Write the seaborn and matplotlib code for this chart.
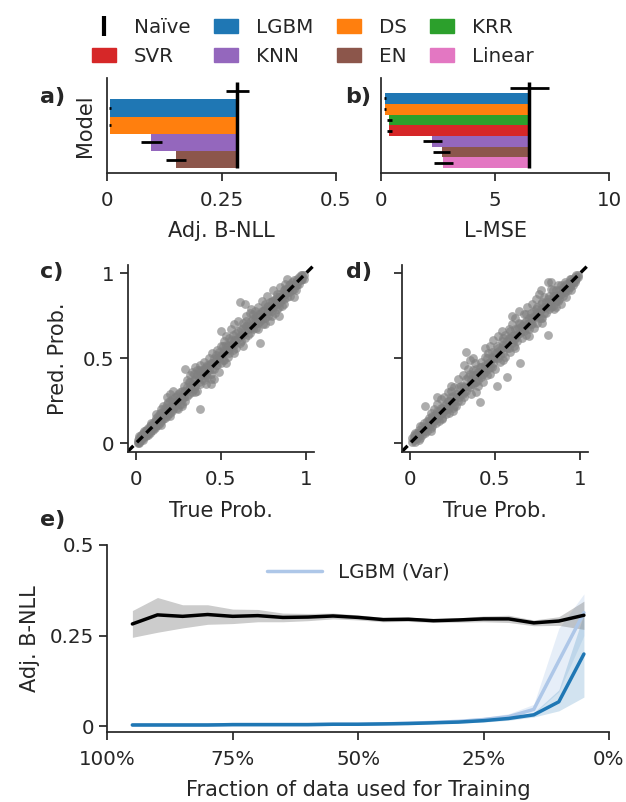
import numpy as np
import pandas as pd
import matplotlib
matplotlib.use("Agg")
import matplotlib.pyplot as plt
from matplotlib.lines import Line2D
from matplotlib.patches import Patch
import seaborn as sns

# ---------------- data ----------------
models = ["LGBM", "DS", "KRR", "SVR", "KNN", "EN", "Linear"]
model_colors = ["#1f77b4", "#ff7f0e", "#2ca02c", "#d62728", "#9467bd", "#8c564b", "#e377c2"]

# a) Adj. B-NLL per model (mean, spread) and naive baseline
nll_models = ["LGBM", "DS", "KNN", "EN"]
nll_vals = [0.006, 0.006, 0.096, 0.150]
nll_err = [0.002, 0.002, 0.023, 0.022]
nll_naive = 0.285
nll_naive_err = 0.026

# b) L-MSE per model and naive baseline
mse_models = ["LGBM", "DS", "KRR", "SVR", "KNN", "EN", "Linear"]
mse_vals = [0.19, 0.19, 0.38, 0.38, 2.25, 2.66, 2.73]
mse_err = [0.05, 0.05, 0.11, 0.11, 0.42, 0.37, 0.42]
mse_naive = 6.50
mse_naive_err = 0.86

# c) true vs predicted probability
calib_c = [
    (0.01, 0.02), (0.01, 0.01), (0.02, 0.03), (0.02, 0.01), (0.03, 0.04), (0.03, 0.02), (0.03, 0.05),
    (0.04, 0.03), (0.04, 0.06), (0.05, 0.04), (0.05, 0.07), (0.05, 0.05), (0.06, 0.05), (0.06, 0.08),
    (0.06, 0.04), (0.07, 0.06), (0.07, 0.09), (0.07, 0.05), (0.08, 0.08), (0.08, 0.10), (0.08, 0.06),
    (0.09, 0.07), (0.09, 0.11), (0.09, 0.09), (0.10, 0.08), (0.10, 0.12), (0.10, 0.10), (0.02, 0.04),
    (0.04, 0.02), (0.06, 0.07),
    (0.11, 0.13), (0.11, 0.09), (0.12, 0.15), (0.12, 0.10), (0.12, 0.17), (0.13, 0.11), (0.13, 0.14),
    (0.14, 0.12), (0.14, 0.18), (0.15, 0.13), (0.15, 0.20), (0.15, 0.16), (0.16, 0.14), (0.16, 0.22),
    (0.17, 0.15), (0.17, 0.19), (0.18, 0.16), (0.18, 0.23), (0.18, 0.27), (0.19, 0.17), (0.19, 0.21),
    (0.20, 0.18), (0.20, 0.25), (0.20, 0.29), (0.21, 0.19), (0.21, 0.26), (0.22, 0.20), (0.22, 0.31),
    (0.23, 0.22), (0.24, 0.21), (0.24, 0.28), (0.25, 0.24), (0.26, 0.23), (0.26, 0.30), (0.27, 0.26),
    (0.28, 0.27), (0.28, 0.34), (0.29, 0.44), (0.29, 0.25), (0.30, 0.33),
    (0.30, 0.28), (0.31, 0.36), (0.31, 0.29), (0.32, 0.40), (0.32, 0.33), (0.33, 0.30), (0.33, 0.42),
    (0.34, 0.37), (0.34, 0.32), (0.35, 0.45), (0.35, 0.34), (0.36, 0.40), (0.36, 0.31), (0.37, 0.43),
    (0.37, 0.36), (0.38, 0.20), (0.38, 0.35), (0.38, 0.46), (0.39, 0.38), (0.39, 0.43), (0.40, 0.37),
    (0.40, 0.48), (0.41, 0.40), (0.41, 0.35), (0.42, 0.46), (0.42, 0.39), (0.43, 0.43), (0.43, 0.50),
    (0.44, 0.41), (0.44, 0.35), (0.45, 0.47), (0.45, 0.53), (0.46, 0.44), (0.46, 0.38), (0.47, 0.52),
    (0.48, 0.46), (0.48, 0.55), (0.49, 0.50), (0.49, 0.42),
    (0.50, 0.57), (0.50, 0.66), (0.50, 0.47), (0.51, 0.53), (0.52, 0.60), (0.52, 0.49), (0.53, 0.55),
    (0.53, 0.63), (0.54, 0.51), (0.54, 0.58), (0.55, 0.62), (0.55, 0.53), (0.56, 0.67), (0.56, 0.57),
    (0.57, 0.55), (0.57, 0.64), (0.58, 0.61), (0.58, 0.70), (0.59, 0.56), (0.59, 0.65), (0.60, 0.62),
    (0.60, 0.72), (0.61, 0.83), (0.61, 0.59), (0.62, 0.67), (0.62, 0.60), (0.63, 0.71), (0.63, 0.64),
    (0.64, 0.82), (0.64, 0.62), (0.65, 0.69), (0.65, 0.75), (0.66, 0.64), (0.66, 0.70), (0.67, 0.77),
    (0.67, 0.65), (0.68, 0.72), (0.68, 0.79), (0.69, 0.67), (0.69, 0.73), (0.70, 0.70), (0.70, 0.78),
    (0.71, 0.68), (0.71, 0.75), (0.72, 0.80), (0.72, 0.71), (0.73, 0.59), (0.73, 0.76), (0.74, 0.73),
    (0.74, 0.84), (0.75, 0.70), (0.75, 0.78), (0.76, 0.82), (0.76, 0.74), (0.77, 0.77), (0.77, 0.87),
    (0.78, 0.75), (0.78, 0.81), (0.79, 0.79), (0.79, 0.72), (0.80, 0.84), (0.80, 0.78), (0.81, 0.90),
    (0.81, 0.80), (0.82, 0.77), (0.82, 0.85), (0.83, 0.82), (0.83, 0.88), (0.84, 0.80), (0.84, 0.86),
    (0.85, 0.92), (0.85, 0.83), (0.86, 0.87), (0.86, 0.81), (0.87, 0.90), (0.87, 0.85), (0.88, 0.88),
    (0.88, 0.94), (0.89, 0.86), (0.89, 0.91), (0.90, 0.89), (0.90, 0.93), (0.91, 0.87), (0.91, 0.92),
    (0.92, 0.90), (0.92, 0.95), (0.93, 0.91), (0.93, 0.96), (0.94, 0.93), (0.94, 0.90), (0.95, 0.95),
    (0.95, 0.97), (0.96, 0.94), (0.96, 0.98), (0.97, 0.96), (0.97, 0.99), (0.98, 0.97), (0.99, 0.99),
    (0.89, 0.97), (0.84, 0.75), (0.93, 0.86),
    (0.02, 0.00), (0.03, 0.03), (0.05, 0.06), (0.07, 0.07), (0.08, 0.09), (0.09, 0.12), (0.11, 0.11),
    (0.12, 0.13), (0.13, 0.16), (0.14, 0.15), (0.15, 0.18), (0.16, 0.17), (0.17, 0.21), (0.18, 0.20),
    (0.19, 0.24), (0.20, 0.21), (0.21, 0.23), (0.22, 0.24), (0.23, 0.27), (0.24, 0.25), (0.25, 0.29),
    (0.25, 0.20), (0.26, 0.27), (0.27, 0.31), (0.27, 0.22), (0.28, 0.30), (0.29, 0.31), (0.30, 0.37),
    (0.31, 0.32), (0.32, 0.36), (0.33, 0.35), (0.34, 0.41), (0.35, 0.38), (0.36, 0.43), (0.37, 0.39),
    (0.38, 0.42), (0.39, 0.40), (0.40, 0.44), (0.40, 0.41), (0.41, 0.45), (0.42, 0.43), (0.43, 0.46),
    (0.44, 0.47), (0.45, 0.44), (0.46, 0.50), (0.47, 0.46), (0.47, 0.49), (0.48, 0.50), (0.49, 0.54),
    (0.50, 0.52), (0.51, 0.57), (0.51, 0.49), (0.52, 0.55), (0.53, 0.58), (0.54, 0.55), (0.55, 0.57),
    (0.56, 0.61), (0.57, 0.59), (0.58, 0.58), (0.59, 0.61), (0.60, 0.66), (0.61, 0.63), (0.62, 0.64),
    (0.63, 0.68), (0.64, 0.66), (0.65, 0.72), (0.66, 0.67), (0.67, 0.69), (0.68, 0.68), (0.69, 0.76),
    (0.70, 0.73), (0.71, 0.72), (0.72, 0.76), (0.73, 0.72), (0.74, 0.78), (0.75, 0.75), (0.76, 0.79),
    (0.77, 0.80), (0.78, 0.78), (0.79, 0.83), (0.80, 0.81), (0.81, 0.84), (0.82, 0.82), (0.83, 0.86),
    (0.84, 0.84), (0.85, 0.88), (0.86, 0.85), (0.87, 0.88), (0.88, 0.91), (0.89, 0.89), (0.90, 0.91),
    (0.91, 0.94), (0.92, 0.93), (0.93, 0.93), (0.94, 0.95), (0.95, 0.93), (0.96, 0.96), (0.97, 0.97),
    (0.98, 0.99), (0.99, 0.97), (0.80, 0.75), (0.83, 0.79), (0.87, 0.82), (0.76, 0.70), (0.72, 0.67),
    (0.63, 0.57), (0.58, 0.53), (0.53, 0.47), (0.44, 0.38), (0.35, 0.30), (0.27, 0.23), (0.20, 0.16),
    (0.15, 0.11), (0.10, 0.09), (0.06, 0.06), (0.04, 0.05), (0.01, 0.00),
]

# d) true vs predicted probability, second model
calib_d = [
    (0.01, 0.01), (0.01, 0.03), (0.02, 0.02), (0.02, 0.05), (0.03, 0.01), (0.03, 0.04), (0.04, 0.06),
    (0.04, 0.03), (0.05, 0.08), (0.05, 0.04), (0.06, 0.06), (0.06, 0.10), (0.07, 0.05), (0.07, 0.08),
    (0.08, 0.12), (0.08, 0.07), (0.09, 0.22), (0.09, 0.09), (0.10, 0.13), (0.10, 0.07), (0.11, 0.10),
    (0.11, 0.15), (0.12, 0.12), (0.12, 0.18), (0.13, 0.10), (0.13, 0.16), (0.14, 0.13), (0.14, 0.20),
    (0.15, 0.12), (0.15, 0.17), (0.16, 0.23), (0.16, 0.15), (0.17, 0.13), (0.17, 0.19), (0.18, 0.26),
    (0.18, 0.17), (0.19, 0.15), (0.19, 0.21), (0.20, 0.19), (0.20, 0.27), (0.21, 0.17), (0.21, 0.23),
    (0.22, 0.30), (0.22, 0.20), (0.23, 0.25), (0.23, 0.18), (0.24, 0.31), (0.24, 0.23), (0.25, 0.21),
    (0.25, 0.28), (0.26, 0.25), (0.26, 0.33), (0.27, 0.22), (0.28, 0.29), (0.28, 0.38), (0.29, 0.27),
    (0.30, 0.34), (0.30, 0.25),
    (0.31, 0.40), (0.31, 0.29), (0.32, 0.46), (0.32, 0.33), (0.33, 0.54), (0.33, 0.31), (0.34, 0.39),
    (0.34, 0.44), (0.35, 0.33), (0.35, 0.49), (0.36, 0.38), (0.36, 0.29), (0.37, 0.43), (0.37, 0.35),
    (0.38, 0.40), (0.38, 0.47), (0.39, 0.36), (0.39, 0.30), (0.40, 0.42), (0.40, 0.37), (0.41, 0.24),
    (0.41, 0.45), (0.42, 0.39), (0.42, 0.48), (0.43, 0.43), (0.43, 0.36), (0.44, 0.51), (0.44, 0.42),
    (0.45, 0.46), (0.45, 0.40), (0.46, 0.53), (0.46, 0.44), (0.47, 0.48), (0.47, 0.57), (0.48, 0.45),
    (0.48, 0.51), (0.49, 0.61), (0.49, 0.47), (0.50, 0.53), (0.50, 0.44), (0.51, 0.34), (0.51, 0.57),
    (0.52, 0.50), (0.52, 0.63), (0.53, 0.55), (0.53, 0.48), (0.54, 0.60), (0.54, 0.66), (0.55, 0.53),
    (0.55, 0.58), (0.56, 0.64), (0.56, 0.51), (0.57, 0.39), (0.57, 0.60), (0.58, 0.56), (0.58, 0.67),
    (0.59, 0.62), (0.59, 0.54), (0.60, 0.70), (0.60, 0.59), (0.61, 0.64), (0.61, 0.57), (0.62, 0.74),
    (0.62, 0.62), (0.63, 0.67), (0.63, 0.60), (0.64, 0.71), (0.64, 0.78), (0.65, 0.47), (0.65, 0.65),
    (0.66, 0.69), (0.66, 0.62), (0.67, 0.76), (0.67, 0.66), (0.68, 0.72), (0.68, 0.64), (0.69, 0.80),
    (0.69, 0.70),
    (0.70, 0.74), (0.70, 0.67), (0.71, 0.77), (0.71, 0.70), (0.72, 0.82), (0.72, 0.73), (0.73, 0.68),
    (0.73, 0.78), (0.74, 0.75), (0.74, 0.85), (0.75, 0.71), (0.75, 0.80), (0.76, 0.77), (0.76, 0.88),
    (0.77, 0.74), (0.77, 0.82), (0.78, 0.79), (0.78, 0.71), (0.79, 0.86), (0.79, 0.80), (0.80, 0.77),
    (0.80, 0.83), (0.81, 0.95), (0.81, 0.64), (0.81, 0.81), (0.82, 0.87), (0.82, 0.79), (0.83, 0.84),
    (0.83, 0.91), (0.84, 0.81), (0.84, 0.87), (0.85, 0.85), (0.85, 0.79), (0.86, 0.90), (0.86, 0.84),
    (0.87, 0.87), (0.87, 0.93), (0.88, 0.85), (0.88, 0.90), (0.89, 0.88), (0.89, 0.82), (0.90, 0.92),
    (0.90, 0.87), (0.91, 0.89), (0.91, 0.95), (0.92, 0.91), (0.92, 0.86), (0.93, 0.94), (0.93, 0.90),
    (0.94, 0.92), (0.94, 0.97), (0.95, 0.94), (0.95, 0.90), (0.96, 0.96), (0.96, 0.93), (0.97, 0.95),
    (0.97, 0.98), (0.98, 0.97), (0.99, 0.98),
    (0.02, 0.03), (0.03, 0.06), (0.04, 0.04), (0.05, 0.06), (0.06, 0.03), (0.07, 0.10), (0.08, 0.09),
    (0.09, 0.06), (0.10, 0.10), (0.11, 0.13), (0.12, 0.09), (0.13, 0.14), (0.14, 0.16), (0.15, 0.14),
    (0.16, 0.19), (0.17, 0.16), (0.18, 0.21), (0.19, 0.18), (0.20, 0.22), (0.21, 0.20), (0.22, 0.25),
    (0.23, 0.22), (0.24, 0.27), (0.25, 0.25), (0.26, 0.22), (0.27, 0.29), (0.28, 0.25), (0.29, 0.33),
    (0.30, 0.29), (0.31, 0.34), (0.32, 0.30), (0.33, 0.38), (0.34, 0.34), (0.35, 0.41), (0.36, 0.35),
    (0.37, 0.40), (0.38, 0.36), (0.39, 0.44), (0.40, 0.40), (0.41, 0.40), (0.42, 0.45), (0.43, 0.41),
    (0.44, 0.46), (0.45, 0.50), (0.46, 0.47), (0.47, 0.45), (0.48, 0.54), (0.49, 0.50), (0.50, 0.50),
    (0.51, 0.54), (0.52, 0.56), (0.53, 0.52), (0.54, 0.56), (0.55, 0.62), (0.56, 0.58), (0.57, 0.56),
    (0.58, 0.62), (0.59, 0.66), (0.60, 0.63), (0.61, 0.61), (0.62, 0.67), (0.63, 0.64), (0.64, 0.68),
    (0.65, 0.70), (0.66, 0.66), (0.67, 0.71), (0.68, 0.76), (0.69, 0.68), (0.70, 0.71), (0.71, 0.74),
    (0.72, 0.70), (0.73, 0.75), (0.74, 0.79), (0.75, 0.77), (0.76, 0.74), (0.77, 0.79), (0.78, 0.83),
    (0.79, 0.77), (0.80, 0.80), (0.81, 0.85), (0.82, 0.83), (0.83, 0.80), (0.84, 0.90), (0.85, 0.87),
    (0.86, 0.87), (0.87, 0.84), (0.88, 0.88), (0.89, 0.93), (0.90, 0.90), (0.91, 0.92), (0.92, 0.94),
    (0.93, 0.92), (0.94, 0.95), (0.95, 0.97), (0.96, 0.95), (0.97, 0.96), (0.98, 0.99), (0.99, 0.99),
    (0.86, 0.80), (0.78, 0.74), (0.70, 0.63), (0.62, 0.56), (0.55, 0.49), (0.47, 0.41), (0.40, 0.34),
    (0.32, 0.27), (0.25, 0.19), (0.19, 0.14), (0.12, 0.07), (0.05, 0.02), (0.83, 0.95), (0.77, 0.90),
    (0.60, 0.75), (0.44, 0.56), (0.37, 0.50), (0.24, 0.34), (0.16, 0.27),
]

# e) Adj. B-NLL vs fraction of training data
train_frac = [0.95, 0.90, 0.85, 0.80, 0.75, 0.70, 0.65, 0.60, 0.55, 0.50,
              0.45, 0.40, 0.35, 0.30, 0.25, 0.20, 0.15, 0.10, 0.05]
naive_mean = [0.282, 0.307, 0.303, 0.308, 0.303, 0.305, 0.300, 0.301, 0.304, 0.300,
              0.294, 0.295, 0.291, 0.293, 0.296, 0.296, 0.285, 0.290, 0.306]
naive_sd = [0.037, 0.048, 0.032, 0.027, 0.020, 0.017, 0.012, 0.010, 0.008, 0.007,
            0.006, 0.006, 0.005, 0.006, 0.008, 0.010, 0.008, 0.012, 0.039]
lgbm_mean = [0.003, 0.003, 0.003, 0.003, 0.004, 0.004, 0.004, 0.004, 0.005, 0.005,
             0.006, 0.007, 0.009, 0.011, 0.015, 0.021, 0.031, 0.067, 0.199]
lgbm_lo = [0.002, 0.002, 0.002, 0.002, 0.003, 0.003, 0.003, 0.003, 0.004, 0.004,
           0.005, 0.005, 0.007, 0.008, 0.011, 0.016, 0.025, 0.042, 0.080]
lgbm_hi = [0.004, 0.004, 0.004, 0.004, 0.005, 0.005, 0.005, 0.005, 0.006, 0.006,
           0.007, 0.009, 0.011, 0.014, 0.019, 0.026, 0.037, 0.100, 0.310]
var_mean = [0.003, 0.003, 0.003, 0.003, 0.004, 0.004, 0.004, 0.004, 0.005, 0.005,
            0.006, 0.008, 0.010, 0.013, 0.018, 0.026, 0.046, 0.180, 0.313]
var_lo = [0.002, 0.002, 0.002, 0.002, 0.003, 0.003, 0.003, 0.003, 0.004, 0.004,
          0.005, 0.006, 0.008, 0.010, 0.013, 0.018, 0.034, 0.095, 0.250]
var_hi = [0.004, 0.004, 0.004, 0.004, 0.005, 0.005, 0.005, 0.005, 0.006, 0.006,
          0.007, 0.010, 0.013, 0.017, 0.024, 0.034, 0.060, 0.270, 0.365]

# ---------------- style ----------------
sns.set_theme(style="ticks", context="notebook", font_scale=1.3)
plt.rcParams["font.family"] = ["DejaVu Sans"]
plt.rcParams["axes.labelsize"] = 15
plt.rcParams["xtick.major.pad"] = 7.5
plt.rcParams["axes.labelpad"] = 8

W, H = 626, 802
fig = plt.figure(figsize=(W / 100, H / 100), dpi=100)


def px_axes(left, top, right, bottom):
    return fig.add_axes([left / W, 1 - bottom / H, (right - left) / W, (bottom - top) / H])


def bar_panel(ax, names, vals, errs, naive, naive_err):
    color_of = dict(zip(models, model_colors))
    n = len(names)
    pos = np.arange(n)
    widths = [naive - v for v in vals]
    ax.barh(pos, widths, left=vals, height=1.0,
            color=[color_of[m] for m in names], linewidth=0)
    ax.errorbar(vals, pos, xerr=errs, fmt="none", ecolor="black", elinewidth=2, capsize=0)
    ax.errorbar([naive], [-1], xerr=[naive_err], fmt="none", ecolor="black",
                elinewidth=2, capsize=0)
    ax.vlines(naive, -1.5, n - 0.5, color="black", linewidth=2.5)
    pad = 0.05 * (n + 1)
    ax.set_ylim(n - 0.5 + pad, -1.5 - pad)
    ax.set_yticks([])
    sns.despine(ax=ax)


# a)
ax_a = px_axes(107.3, 78, 335.7, 172.5)
bar_panel(ax_a, nll_models, nll_vals, nll_err, nll_naive, nll_naive_err)
ax_a.set_xlim(0, 0.5)
ax_a.set_xticks([0, 0.25, 0.5])
ax_a.set_xticklabels(["0", "0.25", "0.5"])
ax_a.set_xlabel("Adj. B-NLL")
ax_a.set_ylabel("Model", labelpad=9)

# b)
ax_b = px_axes(380.7, 78, 609.3, 172.5)
bar_panel(ax_b, mse_models, mse_vals, mse_err, mse_naive, mse_naive_err)
ax_b.set_xlim(0, 10)
ax_b.set_xticks([0, 5, 10])
ax_b.set_xticklabels(["0", "5", "10"])
ax_b.set_xlabel("L-MSE")


# c) and d)
def calib_panel(ax, pts, show_ylabel):
    df = pd.DataFrame(pts, columns=["true", "pred"])
    sns.scatterplot(data=df, x="true", y="pred", ax=ax, color="#808080",
                    alpha=0.65, s=40, linewidth=0)
    sns.lineplot(x=[-0.05, 1.05], y=[-0.05, 1.05], ax=ax, color="black",
                 linewidth=2.4, linestyle=(0, (2.5, 1.5)))
    ax.set_xlim(-0.05, 1.05)
    ax.set_ylim(-0.05, 1.05)
    ax.set_xticks([0, 0.5, 1])
    ax.set_xticklabels(["0", "0.5", "1"])
    ax.set_yticks([0, 0.5, 1])
    if show_ylabel:
        ax.set_yticklabels(["0", "0.5", "1"])
        ax.set_ylabel("Pred. Prob.", labelpad=11)
    else:
        ax.set_yticklabels([])
        ax.set_ylabel("")
    ax.set_xlabel("True Prob.")
    sns.despine(ax=ax)


ax_c = px_axes(127.5, 265, 314.2, 451.7)
calib_panel(ax_c, calib_c, True)
ax_d = px_axes(401.7, 265, 588.3, 451.7)
calib_panel(ax_d, calib_d, False)

# e)
ax_e = px_axes(107.3, 545, 609.0, 731.5)
ax_e.fill_between(train_frac, var_lo, var_hi, color="#aec7e8", alpha=0.3, linewidth=0)
ax_e.fill_between(train_frac, lgbm_lo, lgbm_hi, color="#1f77b4", alpha=0.2, linewidth=0)
ax_e.fill_between(train_frac, np.array(naive_mean) - np.array(naive_sd),
                  np.array(naive_mean) + np.array(naive_sd),
                  color="#808080", alpha=0.4, linewidth=0)
sns.lineplot(x=train_frac, y=var_mean, ax=ax_e, color="#aec7e8", linewidth=2.5,
             label="LGBM (Var)")
sns.lineplot(x=train_frac, y=lgbm_mean, ax=ax_e, color="#1f77b4", linewidth=2.5,
             label="_LGBM")
sns.lineplot(x=train_frac, y=naive_mean, ax=ax_e, color="black", linewidth=2.5,
             label="_Naive")
ax_e.set_xlim(1.0, 0.0)
ax_e.set_ylim(-0.015, 0.5)
ax_e.set_xticks([1.0, 0.75, 0.5, 0.25, 0.0])
ax_e.set_xticklabels(["100%", "75%", "50%", "25%", "0%"])
ax_e.set_yticks([0, 0.25, 0.5])
ax_e.set_yticklabels(["0", "0.25", "0.5"])
ax_e.set_xlabel("Fraction of data used for Training")
ax_e.set_ylabel("Adj. B-NLL", labelpad=7)
ax_e.legend(loc="upper center", frameon=False, handlelength=2.8)
sns.despine(ax=ax_e)

# panel letters
for letter, x, y in [("a)", 40, 97), ("b)", 345, 97), ("c)", 40, 272),
                     ("d)", 346, 272), ("e)", 40, 520)]:
    fig.text(x / W, 1 - y / H, letter, fontsize=16, fontweight="bold",
             ha="left", va="center")

# shared legend
handles = [
    Line2D([], [], color="black", marker="|", linestyle="none", markersize=14,
           markeredgewidth=3),
]
labels = ["Naïve"]
legend_order = ["SVR", "LGBM", "KNN", "DS", "EN", "KRR", "Linear"]
color_of = dict(zip(models, model_colors))
for m in legend_order:
    handles.append(Patch(color=color_of[m]))
    labels.append(m)
fig.legend(handles, labels, loc="upper center", bbox_to_anchor=(0.5, 1.0), ncol=4,
           frameon=False, handlelength=1.2, columnspacing=1.2, handletextpad=0.9,
           labelspacing=0.5)

fig.savefig("out.png", dpi=100)
